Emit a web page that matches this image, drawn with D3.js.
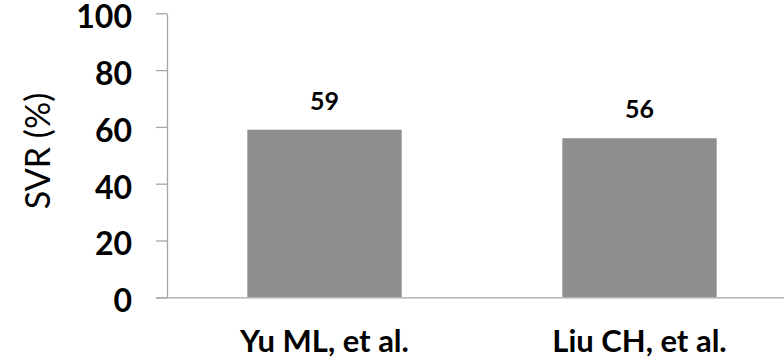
<!DOCTYPE html>
<html>
<head>
<meta charset="utf-8">
<script src="https://cdn.jsdelivr.net/npm/d3@7"></script>
<style>
  html, body { margin: 0; padding: 0; background: #fff; }
  svg { display: block; font-family: Lato, "Open Sans", sans-serif; }
</style>
</head>
<body>
<svg id="chart" width="784" height="358"></svg>
<script>
// Study names and their SVR rates (%)
const categories = ["Yu ML, et al.", "Liu CH, et al."];
const svrValues = [59, 56];
const yTicks = [0, 20, 40, 60, 80, 100];

const svg = d3.select("#chart");

const x = d3.scaleBand()
  .domain(categories)
  .range([167, 797])
  .paddingInner(0.51)
  .paddingOuter(0.255);

const y = d3.scaleLinear()
  .domain([0, 100])
  .range([297.3, 13.3]);

const axisColor = "#a6a6a6";
const heavy = "bold";

// Bars
svg.append("g")
  .selectAll("rect")
  .data(categories)
  .join("rect")
  .attr("x", d => x(d))
  .attr("width", x.bandwidth())
  .attr("y", (d, i) => y(svrValues[i]))
  .attr("height", (d, i) => y(0) - y(svrValues[i]))
  .attr("fill", "#8e8e8e");

// Value labels
svg.append("g")
  .selectAll("text")
  .data(categories)
  .join("text")
  .attr("x", d => x(d) + x.bandwidth() / 2)
  .attr("y", (d, i) => y(svrValues[i]) - 20)
  .attr("text-anchor", "middle")
  .attr("font-size", 25)
  .attr("font-weight", heavy)
  .attr("fill", "#000")
  .text((d, i) => svrValues[i]);

// Y axis
const yAxis = svg.append("g")
  .attr("transform", "translate(167,0)")
  .call(d3.axisLeft(y).tickValues(yTicks).tickSize(11).tickPadding(24).tickSizeOuter(0));
yAxis.select(".domain").attr("stroke", axisColor).attr("stroke-width", 1.3);
yAxis.selectAll(".tick line").attr("stroke", axisColor).attr("stroke-width", 1.3);
yAxis.selectAll(".tick text")
  .attr("font-size", 32)
  .attr("font-weight", heavy)
  .attr("fill", "#000")
  .attr("font-family", "Lato, sans-serif")
  .attr("dy", "0.45em");

// X axis baseline
const xAxis = svg.append("g")
  .attr("transform", `translate(0,${y(0)})`)
  .call(d3.axisBottom(x).tickSize(0).tickPadding(55).tickSizeOuter(0));
xAxis.select(".domain")
  .attr("d", `M156,0.5H797`)
  .attr("stroke", axisColor).attr("stroke-width", 1.3);
xAxis.selectAll(".tick text")
  .attr("font-size", 31)
  .attr("font-weight", heavy)
  .attr("fill", "#000")
  .attr("font-family", "Lato, sans-serif")
  .attr("dy", 0);

// Y axis title
svg.append("text")
  .attr("transform", "translate(50,151) rotate(-90)")
  .attr("text-anchor", "middle")
  .attr("font-size", 34)
  .attr("fill", "#000")
  .text("SVR (%)");
</script>
</body>
</html>
